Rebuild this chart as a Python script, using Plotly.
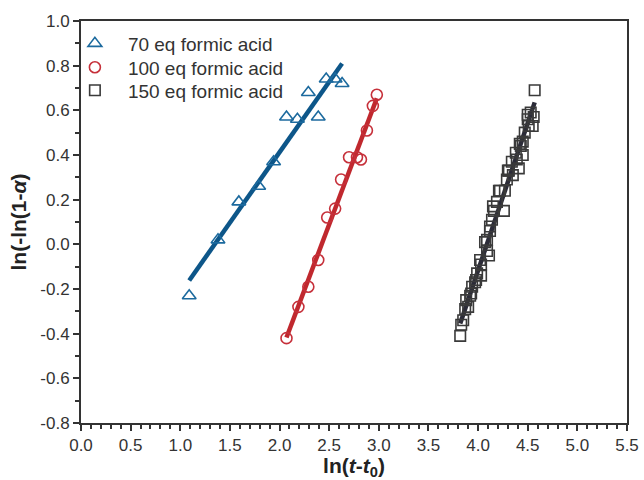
import numpy as np
import plotly.graph_objects as go

# 70 eq formic acid
x70 = [1.09, 1.38, 1.59, 1.79, 1.94, 2.07, 2.18, 2.29, 2.39, 2.47, 2.56, 2.63]
y70 = [-0.23, 0.02, 0.19, 0.26, 0.37, 0.57, 0.56, 0.68, 0.57, 0.74, 0.74, 0.72]

# 100 eq formic acid
x100 = [2.07, 2.19, 2.29, 2.39, 2.48, 2.56, 2.62, 2.70, 2.78, 2.82, 2.88, 2.94, 2.98]
y100 = [-0.42, -0.28, -0.19, -0.07, 0.12, 0.16, 0.29, 0.39, 0.39, 0.38, 0.51, 0.62, 0.67]

# 150 eq formic acid
x150 = [3.82, 3.83, 3.85, 3.87, 3.88, 3.90, 3.92, 3.93, 3.94, 3.97, 3.98, 3.99,
        4.02, 4.03, 4.03, 4.07, 4.09, 4.09, 4.11, 4.12, 4.12, 4.14, 4.15, 4.16,
        4.19, 4.21, 4.22, 4.26, 4.27, 4.29, 4.30, 4.31, 4.34, 4.35, 4.38, 4.39,
        4.41, 4.42, 4.43, 4.45, 4.45, 4.47, 4.50, 4.50, 4.51, 4.53, 4.55, 4.56, 4.57]
y150 = [-0.41, -0.36, -0.34, -0.29, -0.25, -0.28, -0.23, -0.22, -0.19, -0.17, -0.16, -0.13,
        -0.07, -0.09, -0.14, 0.01, 0.02, -0.03, -0.05, 0.06, 0.08, 0.11, 0.17, 0.15,
        0.19, 0.24, 0.24, 0.15, 0.24, 0.29, 0.33, 0.33, 0.37, 0.31, 0.41, 0.38,
        0.34, 0.45, 0.44, 0.46, 0.40, 0.50, 0.58, 0.56, 0.53, 0.59, 0.53, 0.57, 0.69]

names = ["70 eq formic acid", "100 eq formic acid", "150 eq formic acid"]
xticks = [0.0, 0.5, 1.0, 1.5, 2.0, 2.5, 3.0, 3.5, 4.0, 4.5, 5.0, 5.5]
yticks = [-0.8, -0.6, -0.4, -0.2, 0.0, 0.2, 0.4, 0.6, 0.8, 1.0]

FONT = "Liberation Sans, Arial"

series = [
    (x70, y70, "triangle-up-open", 12, "#1c6a9e", "#0d5689"),
    (x100, y100, "circle-open", 11, "#c6303a", "#c0282e"),
    (x150, y150, "square-open", 10.5, "#3a3a3a", "#2b2b38"),
]
legend_ids = ["legend", "legend2", "legend3"]
legend_y = [0.944, 0.8845, 0.8273]

fig = go.Figure()
for (xs, ys, sym, sz, mc, lc), nm in zip(series, names):
    k, b = np.polyfit(xs, ys, 1)
    xl = np.array([min(xs), max(xs)])
    fig.add_trace(go.Scatter(x=xl, y=k * xl + b, mode="lines",
                             line=dict(color=lc, width=4.5), showlegend=False,
                             hoverinfo="skip"))
for (xs, ys, sym, sz, mc, lc), nm, lid in zip(series, names, legend_ids):
    fig.add_trace(go.Scatter(x=xs, y=ys, mode="markers", name=nm, legend=lid,
                             marker=dict(symbol=sym, size=sz, color=mc,
                                         line=dict(width=1.6, color=mc))))

axis_common = dict(
    showline=True, linewidth=2, linecolor="#333333", mirror=True,
    ticks="outside", ticklen=6, tickwidth=2, tickcolor="#333333",
    showgrid=False, zeroline=False, automargin=False,
    tickfont=dict(family=FONT, size=17, color="#333333"),
    minor=dict(ticks="outside", ticklen=4, tickwidth=1.5, tickcolor="#333333"),
)

fig.update_xaxes(range=[0, 5.5], tickvals=xticks, ticktext=[f"{v:.1f}" for v in xticks],
                 minor_dtick=0.1, minor_tick0=0, ticklabeloverflow="allow",
                 title=dict(text="<b>ln(<i>t</i>-<i>t</i><sub>0</sub>)</b>", standoff=8,
                            font=dict(family=FONT, size=21, color="#222222")),
                 **axis_common)
fig.update_yaxes(range=[-0.8, 1.0], tickvals=yticks, ticktext=[f"{v:.1f}" for v in yticks],
                 minor_dtick=0.1, minor_tick0=0,
                 title=dict(text="<b>ln(-ln(1-<i>α</i>)</b>", standoff=8,
                            font=dict(family=FONT, size=21, color="#222222")),
                 **axis_common)

leg_common = dict(xanchor="left", yanchor="middle", bgcolor="rgba(0,0,0,0)", borderwidth=0,
                  font=dict(family=FONT, size=19, color="#333333"), itemwidth=56)
fig.update_layout(
    width=644, height=480,
    margin=dict(l=81, r=17, t=20.5, b=57),
    paper_bgcolor="white", plot_bgcolor="white",
    legend=dict(x=-0.035, y=legend_y[0], **leg_common),
    legend2=dict(x=-0.035, y=legend_y[1], **leg_common),
    legend3=dict(x=-0.035, y=legend_y[2], **leg_common),
    showlegend=True,
)

fig.write_html("out.html", config={"displayModeBar": False},
               post_script="document.body.style.margin='0';document.body.style.overflow='hidden';")
